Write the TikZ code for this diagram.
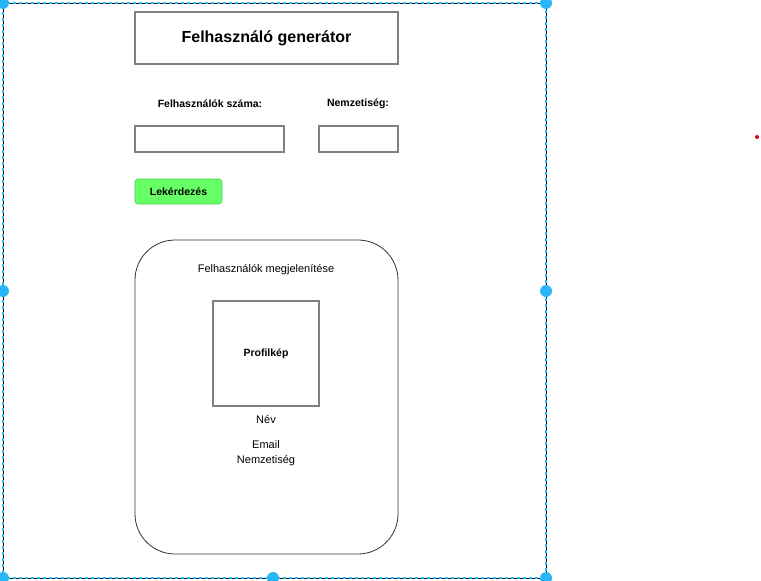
\documentclass[tikz,border=0pt]{standalone}
\usepackage{fontspec}
\setmainfont{Liberation Sans}
\usepackage{xcolor}
\usepackage{tikz}
\usetikzlibrary{positioning,fit}
\definecolor{selblue}{HTML}{29B6F6}
\definecolor{boxgray}{HTML}{808080}
\definecolor{btngreen}{HTML}{66FF66}
\tikzset{
  field/.style={draw=boxgray,line width=1.6pt,inner sep=0pt},
  caption/.style={font=\fontsize{10.5}{13}\selectfont\bfseries},
  plain/.style={font=\fontsize{11}{13}\selectfont},
  handle/.style={fill=selblue,draw=none}
}
\begin{document}
\begin{tikzpicture}[x=1pt,y=-1pt]
                \useasboundingbox (0,0) rectangle (761,581);
                \def\frame{(3,3) rectangle (546,578)}
                \draw[black,line width=.8pt,dash pattern=on 3pt off 3pt] \frame;
                \draw[selblue,line width=1.5pt,dash pattern=on 3pt off 3pt,dash phase=3pt] \frame;
                \node[field,minimum width=263pt,minimum height=52pt,font=\fontsize{16}{19}\selectfont\bfseries] (title) at (266.5,38) {Felhasználó generátor};
                \node[caption] (countlabel) at (210,104) {Felhasználók száma:};
                \node[caption] (natlabel) at (358,104) {Nemzetiség:};
                \node[field,minimum width=149pt,minimum height=26pt] (countbox) at (209.5,139) {};
                \node[field,minimum width=79pt,minimum height=26pt] (natbox) at (358.5,139) {};
                \node[caption,fill=btngreen,draw=btngreen!80!black,line width=.6pt,rounded corners=3pt,minimum width=87pt,minimum height=25pt,inner sep=0pt] (query) at (178.5,191.5) {Lekérdezés};
                \node[draw=black!80,line width=.8pt,rounded corners=40pt,minimum width=263pt,minimum height=314pt] (users) at (266.5,397) {};
                \node[plain] (userslabel) at (266,270) {Felhasználók megjelenítése};
                \node[field,minimum width=106pt,minimum height=105pt,caption] (pic) at (266,353.5) {Profilkép};
                \node[plain] (name) at (266,419) {Név};
                \node[plain,align=center] (details) at (266,453.5) {Email\\[2pt]Nemzetiség};
                % selection handles
                \foreach \hx/\hy in {3/3,546/3,3/291,546/291,3/578,273/578,546/578}
                    \fill[handle] (\hx,\hy) circle (6pt);
                \fill[red!90!black] (757,137) circle (2pt);
            \end{tikzpicture}
\end{document}
